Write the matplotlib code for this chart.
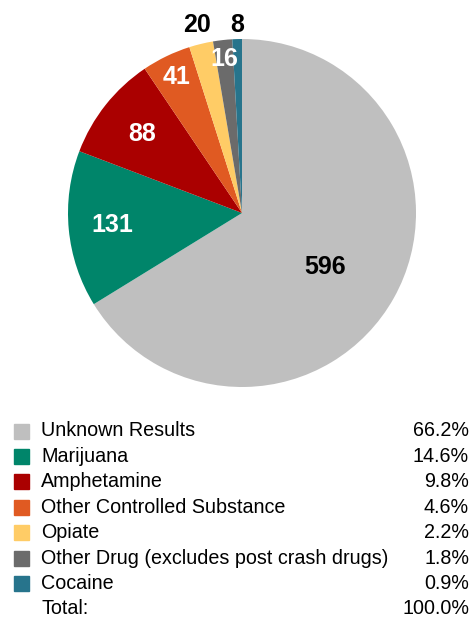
import numpy as np
import matplotlib.pyplot as plt
from matplotlib.patches import Rectangle

plt.rcParams['font.family'] = ['Liberation Sans', 'DejaVu Sans']

categories = [
    "Unknown Results", "Marijuana", "Amphetamine", "Other Controlled Substance",
    "Opiate", "Other Drug (excludes post crash drugs)", "Cocaine",
]
counts = [596, 131, 88, 41, 20, 16, 8]
colors = ["#BFBFBF", "#00856A", "#AA0000", "#E05A22", "#FFCC66", "#6B6B6B", "#27748C"]
label_colors = ["black", "white", "white", "white", "black", "white", "black"]
label_radius = [0.57, 0.75, 0.73, 0.87, 1.11, 0.89, 1.08]
label_shift = [-4, 0, 0, 0, 0, 0, 0]  # degrees, nudges the big label down a touch

W, H = 474, 620
fig = plt.figure(figsize=(W / 100, H / 100), dpi=100)

# pie axes placed in pixel terms: centre (242, 213), radius 174
cx, cy, r = 242, 213, 174
ax = fig.add_axes([(cx - r) / W, 1 - (cy + r) / H, 2 * r / W, 2 * r / H])
wedges, _ = ax.pie(counts, colors=colors, startangle=90, counterclock=False,
                   radius=1, wedgeprops=dict(linewidth=0))
ax.set_xlim(-1, 1)
ax.set_ylim(-1, 1)
ax.set_aspect("equal")

for w, n, c, rr, sh in zip(wedges, counts, label_colors, label_radius, label_shift):
    mid = np.deg2rad((w.theta1 + w.theta2) / 2 + sh)
    ax.text(rr * np.cos(mid), rr * np.sin(mid), str(n), ha="center", va="center",
            fontsize=18, fontweight="bold", color=c, clip_on=False)

# legend table underneath
total = sum(counts)
fs = 14.2
row_y = [431 + 25.4 * i for i in range(len(categories) + 1)]
for i, (name, n, col) in enumerate(zip(categories, counts, colors)):
    y = row_y[i]
    fig.patches.append(Rectangle((14 / W, 1 - (y + 7.5) / H), 15 / W, 15 / H,
                                 transform=fig.transFigure, color=col))
    fig.text(41 / W, 1 - y / H, name, ha="left", va="center", fontsize=fs)
    fig.text(469 / W, 1 - y / H, f"{100 * n / total:.1f}%", ha="right",
             va="center", fontsize=fs)
fig.text(41 / W, 1 - row_y[-1] / H, "Total:", ha="left", va="center", fontsize=fs)
fig.text(469 / W, 1 - row_y[-1] / H, "100.0%", ha="right", va="center", fontsize=fs)

fig.savefig("out.png", dpi=100)
